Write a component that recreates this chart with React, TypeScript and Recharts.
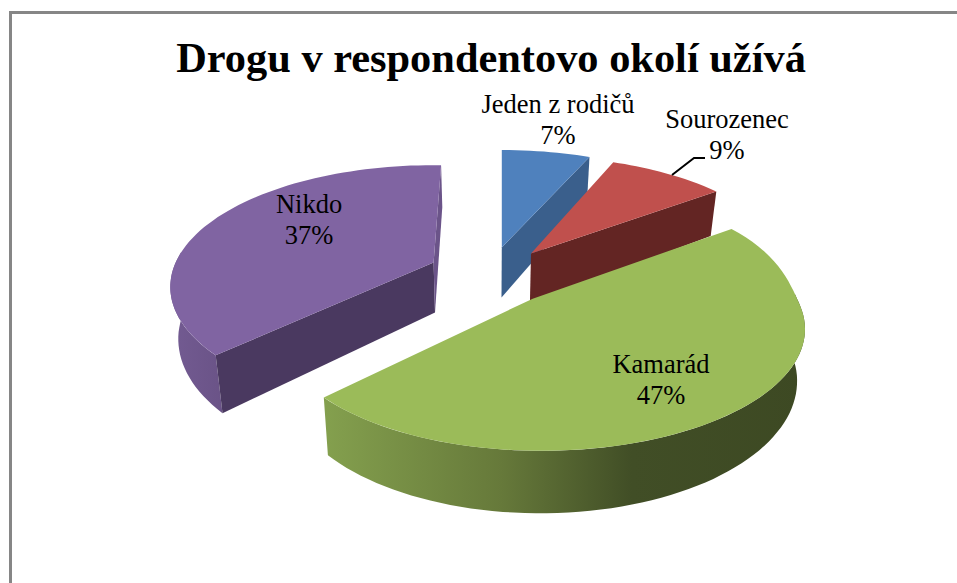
import React from "react"
import { Pie, PieChart } from "recharts"

const names = ["Jeden z rodičů", "Sourozenec", "Kamarád", "Nikdo"]
const shares = [7, 9, 47, 37]
const topColors = ["#4f81bd", "#c0504d", "#9bbb59", "#8064a2"]
const cutColors = ["#3a5f8c", "#632523", "#5f7535", "#4a3960"]
const endCutColors = ["#3a5f8c", "#632523", "#5f7535", "#6b5489"]
const rimColors = ["#3a5f8c", "#632523", "url(#rimGreen)", "url(#rimPurple)"]

const chartData = names.map((name, i) => ({ name, value: shares[i] }))

// where the two text lines sit, relative to the pie centre
const labelSpots = [
  { dx: 68, dy: -165 },
  { dx: 237, dy: -150 },
  { dx: 171, dy: 95 },
  { dx: -181, dy: -65 },
]

// small corrections to each slice: exploded position, angle pull, far side bulge, inner tip
const sliceNudges = [
  { dx: -3, dy: 0, twist: 2.5, bulge: 0, tipX: 0, tipY: 0 },
  { dx: -4, dy: -1, twist: 5, bulge: 0, tipX: 0, tipY: 0 },
  { dx: 10, dy: 2, twist: 11, bulge: 0.135, tipX: -9, tipY: -6 },
  { dx: 6, dy: -3, twist: 0, bulge: 0, tipX: 0, tipY: 0 },
]

const WIDTH = 957
const HEIGHT = 583
const CX = 490
const CY = 278
const RADIUS = 258
const SQUASH = 0.453 // tilt of the disc
const PERSPECTIVE = 0.2
const EXPLODE = 68
const DEPTH = 50
const DROP_SHRINK = 0.975

const rad = (deg: number) => (deg * Math.PI) / 180

// theta is clockwise from 12 o'clock
const rimPoint = (ax: number, ay: number, r: number, theta: number, index: number) => {
  const { twist, bulge } = sliceNudges[index]
  const farRight = theta > 0 && theta < 90 ? Math.sin(rad(2 * theta)) ** 2 : 0
  // the 3D view pulls angles a little out of true in the far quadrants
  let t = theta - twist * farRight
  if (theta > 270) t = theta + (2 * (theta - 270)) / 90
  const u = Math.sin(rad(t))
  const v = Math.cos(rad(t))
  const s = 1 / (1 + PERSPECTIVE * v)
  const rr = r * (1 + bulge * farRight)
  return { x: ax + rr * u * s, y: ay - rr * SQUASH * v * s, s }
}

const drop = (p: { x: number; y: number; s: number }, cx: number) => ({
  x: cx + (p.x - cx) * DROP_SHRINK,
  y: p.y + DEPTH * p.s,
  s: p.s,
})

const toPath = (pts: { x: number; y: number }[]) =>
  "M" + pts.map((p) => `${p.x.toFixed(1)},${p.y.toFixed(1)}`).join("L") + "Z"

const arc = (ax: number, ay: number, r: number, from: number, to: number, index: number) => {
  const pts = []
  const steps = Math.max(2, Math.ceil(Math.abs(to - from) / 2))
  for (let i = 0; i <= steps; i++) {
    pts.push(rimPoint(ax, ay, r, from + ((to - from) * i) / steps, index))
  }
  return pts
}

const Slice3D = (props: any) => {
  const { cx, cy, outerRadius, startAngle, endAngle, index } = props
  const from = 90 - startAngle
  const to = 90 - endAngle
  const mid = rad((from + to) / 2)
  const nudge = sliceNudges[index]
  const ax = cx + EXPLODE * Math.sin(mid) + nudge.dx
  const ay = cy - EXPLODE * 0.46 * Math.cos(mid) + nudge.dy
  const apex = { x: ax, y: ay, s: 1 }
  const tip = { x: ax + nudge.tipX, y: ay + nudge.tipY }
  const rim = arc(ax, ay, outerRadius, from, to, index)
  const first = rim[0]
  const last = rim[rim.length - 1]

  // outer wall, only the part turned to the viewer
  const wallFrom = Math.max(from, 85)
  const wallTo = Math.min(to, 275)
  const wall = wallTo > wallFrom ? arc(ax, ay, outerRadius, wallFrom, wallTo, index) : []

  const showStart = Math.sin(rad(from)) < -0.01
  const showEnd = Math.sin(rad(to)) > -0.01

  return (
    <g>
      {wall.length > 0 && (
        <path d={toPath([...wall, ...wall.map((p) => drop(p, cx)).reverse()])} fill={rimColors[index]} />
      )}
      {showStart && (
        <path d={toPath([apex, first, drop(first, cx), drop(apex, cx)])} fill={cutColors[index]} />
      )}
      {showEnd && (
        <path d={toPath([apex, last, drop(last, cx), drop(apex, cx)])} fill={endCutColors[index]} />
      )}
      <path d={toPath([tip, ...rim])} fill={topColors[index]} />
    </g>
  )
}

const SliceLabel = (props: any) => {
  const { cx, cy, index, name, percent } = props
  const spot = labelSpots[index]
  const x = cx + spot.dx
  const y = cy + spot.dy
  return (
    <g>
      {name === "Sourozenec" && (
        <polyline points={`${x - 55},${y + 47} ${x - 33},${y + 30} ${x - 22},${y + 30}`} fill="none" stroke="#000" strokeWidth={2} />
      )}
      <text x={x} y={y} textAnchor="middle" fontFamily="Liberation Serif" fontSize={26.5} fill="#000">
        {name}
      </text>
      <text x={x} y={y + 31} textAnchor="middle" fontFamily="Liberation Serif" fontSize={26.5} fill="#000">
        {`${Math.round(percent * 100)}%`}
      </text>
    </g>
  )
}

export default function App() {
  return (
    <div style={{ position: "absolute", left: 0, top: 0, width: WIDTH, height: HEIGHT, overflow: "hidden", background: "#fff" }}>
      <div style={{ position: "absolute", left: 9, top: 11, right: 0, bottom: 0, borderLeft: "3px solid #868686", borderTop: "3px solid #868686" }} />
      <div style={{ position: "absolute", left: 0, top: 0 }}>
        <PieChart width={WIDTH} height={HEIGHT} margin={{ top: 0, right: 0, bottom: 0, left: 0 }}>
          <defs>
            <linearGradient id="rimGreen" x1="0" x2="1" y1="0" y2="0">
              <stop offset="0" stopColor="#84a04e" />
              <stop offset="0.37" stopColor="#66793a" />
              <stop offset="0.64" stopColor="#414e26" />
              <stop offset="1" stopColor="#3d4923" />
            </linearGradient>
            <linearGradient id="rimPurple" x1="0" x2="1" y1="0" y2="0">
              <stop offset="0" stopColor="#735b92" />
              <stop offset="1" stopColor="#6a5387" />
            </linearGradient>
          </defs>
          <text x={491} y={72} textAnchor="middle" fontFamily="Liberation Serif" fontWeight="bold" fontSize={42.4} fill="#000">
            Drogu v respondentovo okolí užívá
          </text>
          <Pie
            data={chartData}
            dataKey="value"
            nameKey="name"
            cx={CX}
            cy={CY}
            outerRadius={RADIUS}
            startAngle={90}
            endAngle={-270}
            stroke="none"
            shape={Slice3D}
            label={SliceLabel}
            labelLine={false}
            isAnimationActive={false}
          />
        </PieChart>
      </div>
    </div>
  )
}
